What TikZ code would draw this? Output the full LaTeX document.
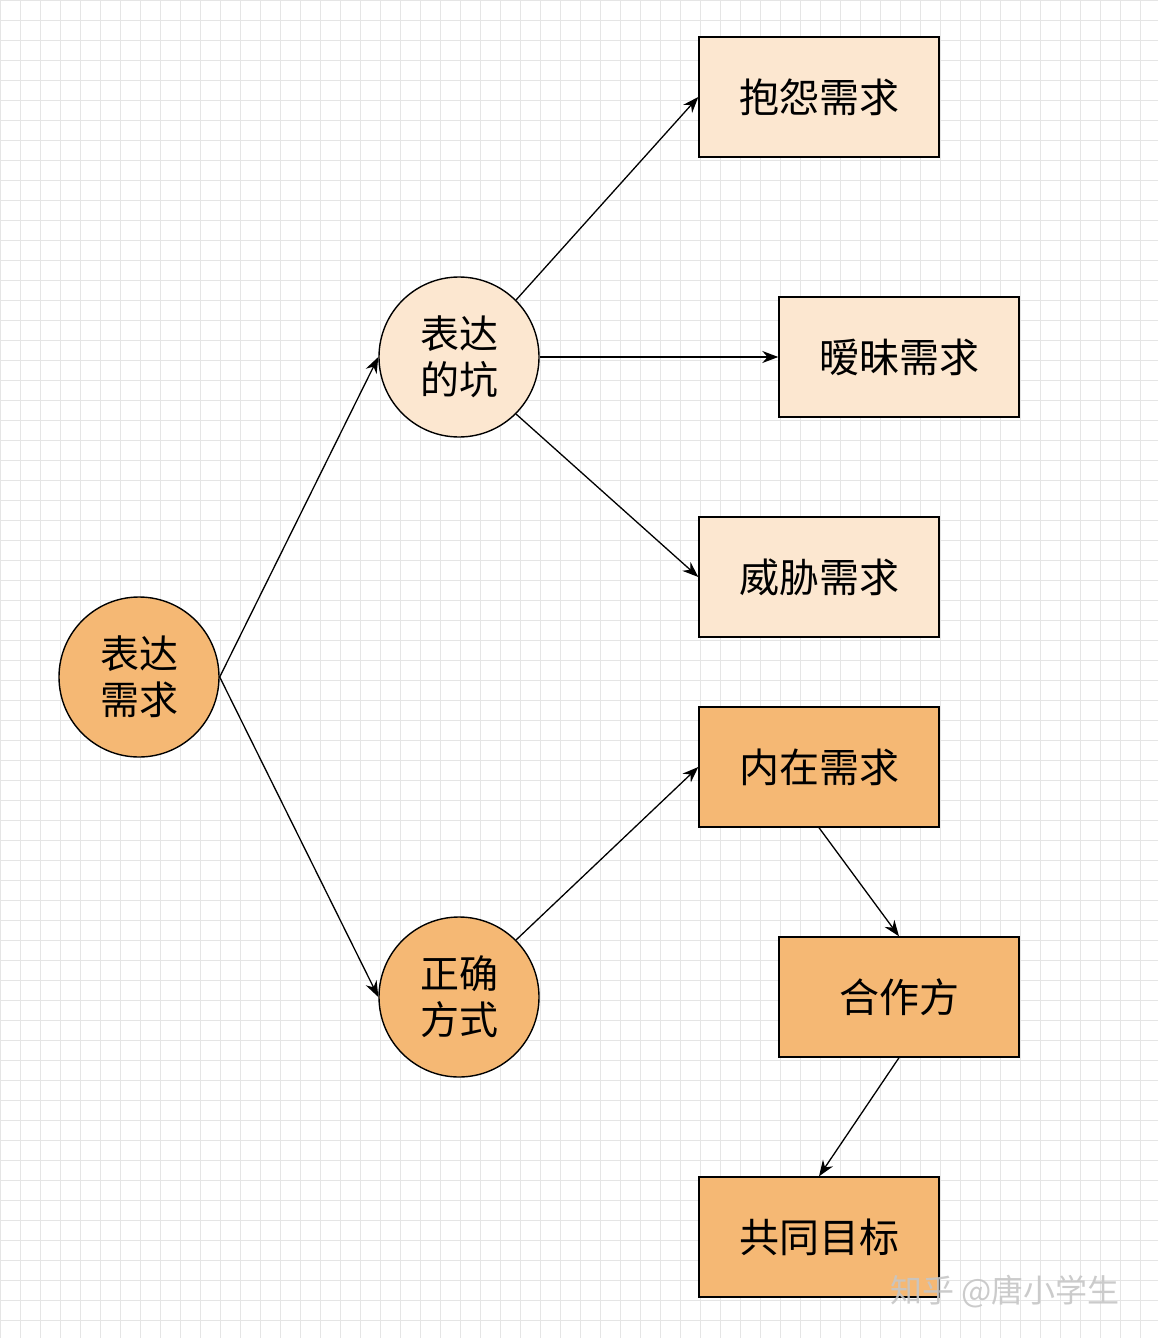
\documentclass[tikz,border=0pt]{standalone}
\usepackage{fontspec}
\newfontfamily\cjk{Noto Sans CJK SC}
\usetikzlibrary{arrows.meta}
\definecolor{lightor}{HTML}{FCE7D0}
\definecolor{darkor}{HTML}{F5B874}
\begin{document}
\begin{tikzpicture}[x=1pt,y=-1pt,
  circ/.style={circle,draw=black,line width=1.4pt,minimum size=160pt,inner sep=0pt,align=center,font=\cjk\fontsize{39}{46}\selectfont},
  box/.style={rectangle,draw=black,line width=1.4pt,minimum width=240pt,minimum height=120pt,inner sep=0pt,font=\cjk\fontsize{40}{44}\selectfont},
  arr/.style={-{Stealth[length=16pt,width=12pt]},line width=1.3pt}]
\useasboundingbox (0,0) rectangle (1158,1338);
\fill[white] (0,0) rectangle (1158,1338);
\foreach \k in {0,20,...,1340} {\draw[gray!20,line width=0.6pt] (0,\k) -- (1158,\k);}
\foreach \k in {0,20,...,1160} {\draw[gray!20,line width=0.6pt] (\k,0) -- (\k,1338);}
\node[circ,fill=darkor] (a) at (139,677) {表达\\需求};
\node[circ,fill=lightor] (b) at (459,357) {表达\\的坑};
\node[circ,fill=darkor] (c) at (459,997) {正确\\方式};
\node[box,fill=lightor] (d) at (819,97) {抱怨需求};
\node[box,fill=lightor] (e) at (899,357) {暧昧需求};
\node[box,fill=lightor] (f) at (819,577) {威胁需求};
\node[box,fill=darkor] (g) at (819,767) {内在需求};
\node[box,fill=darkor] (h) at (899,997) {合作方};
\node[box,fill=darkor] (i) at (819,1237) {共同目标};
\draw[arr] (a.east) -- (b.west);
\draw[arr] (a.east) -- (c.west);
\draw[arr] (b.45) -- (d.west);
\draw[arr] (b.east) -- (e.west);
\draw[arr] (b.-45) -- (f.west);
\draw[arr] (c.45) -- (g.west);
\draw[arr] (g.south) -- (h.north);
\draw[arr] (h.south) -- (i.north);
\node[font=\cjk\fontsize{32}{36}\selectfont,text=gray!45,opacity=0.9] (w) at (1005,1292) {知乎 @唐小学生};
\end{tikzpicture}
\end{document}
